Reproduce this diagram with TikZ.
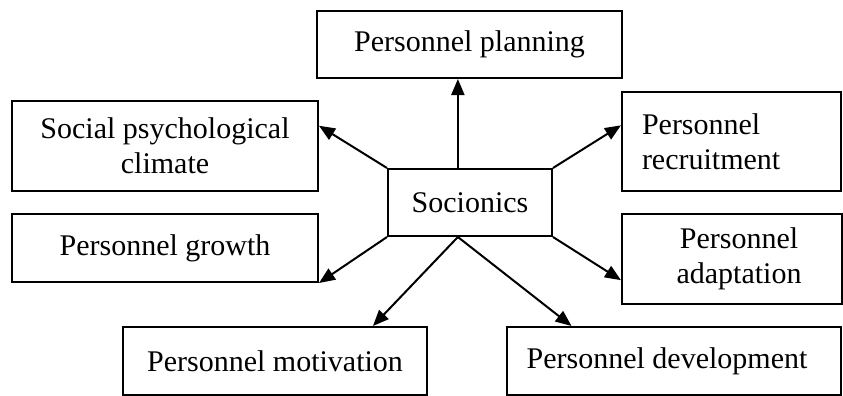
\documentclass[tikz,border=0pt]{standalone}
\usepackage{fontspec}
\setmainfont{Liberation Serif}
\usetikzlibrary{arrows.meta,calc}
\begin{document}
\begin{tikzpicture}[x=0.5pt,y=-0.5pt,
  box/.style={draw,line width=1pt,inner sep=0pt,align=center,font=\fontsize{15}{17.5}\selectfont},
  arr/.style={line width=1pt,-{Triangle[length=8pt,width=6.5pt]}}]
\useasboundingbox (0,0) rectangle (843,396);
\node[box,minimum width=152.5pt,minimum height=33.5pt] (plan) at (469.5,44.5) {Personnel planning};
\node[box,minimum width=153pt,minimum height=45pt] (climate) at (165,146) {Social psychological\\climate};
\node[box,align=left,text width=89.5pt,inner xsep=10pt,minimum height=49.5pt] (recruit) at (731.5,141.5) {Personnel\\recruitment};
\node[box,minimum width=82pt,minimum height=33.5pt] (socio) at (470,202.5) {Socionics};
\node[box,minimum width=153pt,minimum height=34pt] (growth) at (165,248) {Personnel growth};
\node[box,minimum width=110pt,minimum height=45pt] (adapt) at (732,259) {\hspace*{7pt}Personnel\\\hspace*{7pt}adaptation};
\node[box,minimum width=152pt,minimum height=34pt] (motiv) at (275,361) {Personnel motivation};
\node[box,minimum width=167pt,minimum height=34pt] (devel) at (674,361) {Personnel development\hspace*{7pt}};
\coordinate (stop) at ($(socio.north west)!0.427!(socio.north east)$);
\coordinate (sbot) at ($(socio.south west)!0.427!(socio.south east)$);
\draw[arr] (stop) -- (stop |- plan.south);
\draw[arr] (socio.north west) -- ($(climate.north east)!0.28!(climate.south east)$);
\draw[arr] (socio.north east) -- ($(recruit.north west)!0.34!(recruit.south west)$);
\draw[arr] (socio.south west) -- (growth.south east);
\draw[arr] (socio.south east) -- ($(adapt.north west)!0.73!(adapt.south west)$);
\draw[arr] (sbot) -- ($(motiv.north west)!0.82!(motiv.north east)$);
\draw[arr] (sbot) -- ($(devel.north west)!0.195!(devel.north east)$);
\end{tikzpicture}
\end{document}
